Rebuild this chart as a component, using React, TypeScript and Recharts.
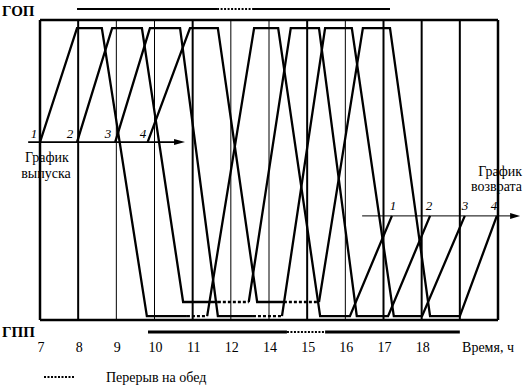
import React from 'react';
import { LineChart, Line, XAxis, YAxis, ReferenceLine } from 'recharts';

const FONT = 'Liberation Serif, DejaVu Serif, serif';

// clock positions of the grid (one column per hour slot) and their printed labels
const hourSlots = [7, 8, 9, 10, 11, 12, 13, 14, 15, 16, 17, 18, 19];
const hourTicks = [7, 8, 9, 10, 11, 12, 13, 14, 15, 16, 17, 18];
const hourLabels = ['7', '8', '9', '10', '11', '12', '14', '15', '16', '17', '18', ''];
const thickSlots = [8, 11, 14, 16, 17, 18];

// levels (0 = bottom of the box, 100 = top)
const GOP = 97.3;
const GPP_LOW = 1.3;
const GPP_HIGH = 6;
const OUT = 59.3;
const BACK = 34.7;

// vehicle 1..4: turning points (time, level); segment 4-5 is the lunch break
const times1 = [7.0, 7.97, 8.62, 9.8, 10.85, 11.38, 12.61, 13.24, 14.34, 15.12, 16.22];
const levels1 = [OUT, GOP, GOP, GPP_LOW, GPP_LOW, GPP_LOW, GOP, GOP, GPP_LOW, GPP_LOW, BACK];
const times2 = [7.97, 8.89, 9.67, 10.75, 11.66, 12.47, 13.57, 14.31, 15.3, 16.12, 17.22];
const levels2 = [OUT, GOP, GOP, GPP_HIGH, GPP_HIGH, GPP_HIGH, GOP, GOP, GPP_LOW, GPP_LOW, BACK];
const times3 = [8.97, 9.88, 10.67, 11.66, 12.58, 13.34, 14.47, 15.17, 16.27, 17.01, 18.13];
const levels3 = [OUT, GOP, GOP, GPP_LOW, GPP_LOW, GPP_LOW, GOP, GOP, GPP_LOW, GPP_LOW, BACK];
const times4 = [9.82, 10.93, 11.66, 12.69, 13.39, 14.31, 15.46, 16.17, 17.22, 18.0, 18.97];
const levels4 = [OUT, GOP, GOP, GPP_HIGH, GPP_HIGH, GPP_HIGH, GOP, GOP, GPP_LOW, GPP_LOW, BACK];

// work-time bars above (ГОП) and below (ГПП): [solid start, lunch start, lunch end, solid end]
const gopBar = [7.97, 11.64, 12.58, 16.17];
const gppBar = [9.83, 13.47, 14.47, 18.0];
const GOP_BAR_LEVEL = 103.7;
const GPP_BAR_LEVEL = -4;

// release and return arrows: [from, to]
const releaseArrow = [6.69, 10.8];
const returnArrow = [15.44, 19.58];

const vehicles = [
  [times1, levels1],
  [times2, levels2],
  [times3, levels3],
  [times4, levels4],
];

const splitTrip = (times: number[], levels: number[]) => {
  const pts = times.map((t, i) => ({ t, v: levels[i] }));
  return { before: pts.slice(0, 5), lunch: pts.slice(4, 6), after: pts.slice(5) };
};

const Arrow = (head: number, width: number) => (props: any) => {
  const { x1, y1, x2, y2 } = props;
  return (
    <g>
      <line x1={x1} y1={y1} x2={x2 - 4} y2={y2} stroke="#000" strokeWidth={width} />
      <polygon points={`${x2},${y2} ${x2 - head},${y2 - 3} ${x2 - head},${y2 + 3}`} fill="#000" />
    </g>
  );
};

const txt = { fontFamily: FONT, fill: '#000' };

const HourTick = (props: any) => {
  const { x, y, index } = props;
  return (
    <text x={x + 1} y={y + 24} textAnchor="middle" fontSize={14} style={txt}>
      {hourLabels[index]}
    </text>
  );
};

export default function App() {
  const trips = vehicles.map(([t, l]) => splitTrip(t, l));
  const lw = 2.3;
  return (
    <div style={{ position: 'absolute', left: 0, top: 0, width: 523, height: 392, background: '#fff' }}>
      <LineChart width={523} height={392} margin={{ top: 20, right: 25, bottom: 42, left: 40 }}>
        <XAxis
          type="number"
          dataKey="t"
          domain={[7, 19]}
          ticks={hourTicks}
          tick={<HourTick />}
          tickLine={false}
          axisLine={false}
          height={30}
          allowDataOverflow
        />
        <YAxis type="number" dataKey="v" domain={[0, 100]} hide allowDataOverflow />

        {hourSlots.map((h) => (
          <ReferenceLine
            key={'g' + h}
            x={h}
            stroke="#000"
            strokeWidth={h === 7 || h === 19 ? 2.5 : thickSlots.includes(h) ? 2 : 1}
          />
        ))}
        <ReferenceLine y={100} stroke="#000" strokeWidth={2.5} />
        <ReferenceLine y={0} stroke="#000" strokeWidth={2.5} />

        {trips.map((tr, i) => [
          <Line key={'a' + i} data={tr.before} dataKey="v" type="linear" stroke="#000" strokeWidth={lw} dot={false} isAnimationActive={false} />,
          <Line key={'l' + i} data={tr.lunch} dataKey="v" type="linear" stroke="#000" strokeWidth={lw} strokeDasharray="3 2" dot={false} isAnimationActive={false} />,
          <Line key={'b' + i} data={tr.after} dataKey="v" type="linear" stroke="#000" strokeWidth={lw} dot={false} isAnimationActive={false} />,
        ])}

        <ReferenceLine segment={[{ x: gopBar[0], y: GOP_BAR_LEVEL }, { x: gopBar[1], y: GOP_BAR_LEVEL }]} stroke="#000" strokeWidth={2} ifOverflow="visible" />
        <ReferenceLine segment={[{ x: gopBar[1], y: GOP_BAR_LEVEL }, { x: gopBar[2], y: GOP_BAR_LEVEL }]} stroke="#000" strokeWidth={2} strokeDasharray="2 1.5" ifOverflow="visible" />
        <ReferenceLine segment={[{ x: gopBar[2], y: GOP_BAR_LEVEL }, { x: gopBar[3], y: GOP_BAR_LEVEL }]} stroke="#000" strokeWidth={2} ifOverflow="visible" />
        <ReferenceLine segment={[{ x: gppBar[0], y: GPP_BAR_LEVEL }, { x: gppBar[1], y: GPP_BAR_LEVEL }]} stroke="#000" strokeWidth={3} ifOverflow="visible" />
        <ReferenceLine segment={[{ x: gppBar[1], y: GPP_BAR_LEVEL }, { x: gppBar[2], y: GPP_BAR_LEVEL }]} stroke="#000" strokeWidth={2} strokeDasharray="2 1.5" ifOverflow="visible" />
        <ReferenceLine segment={[{ x: gppBar[2], y: GPP_BAR_LEVEL }, { x: gppBar[3], y: GPP_BAR_LEVEL }]} stroke="#000" strokeWidth={3} ifOverflow="visible" />

        <ReferenceLine segment={[{ x: releaseArrow[0], y: OUT }, { x: releaseArrow[1], y: OUT }]} ifOverflow="visible" shape={Arrow(11, 1.6)} />
        <ReferenceLine segment={[{ x: returnArrow[0], y: BACK }, { x: returnArrow[1], y: BACK }]} ifOverflow="visible" shape={Arrow(10, 1)} />

        <text x={2} y={16} fontSize={15} fontWeight="bold" style={txt}>ГОП</text>
        <text x={2} y={337} fontSize={15} fontWeight="bold" style={txt}>ГПП</text>

        <text x={47} y={162} fontSize={14} textAnchor="middle" style={txt}>График</text>
        <text x={46} y={178} fontSize={14} textAnchor="middle" style={txt}>выпуска</text>
        <text x={522} y={176} fontSize={14} textAnchor="end" style={txt}>График</text>
        <text x={522} y={191} fontSize={14} textAnchor="end" style={txt}>возврата</text>

        {['1', '2', '3', '4'].map((n, i) => (
          <text key={'r' + n} x={[34, 70, 108, 143][i]} y={138} fontSize={13} fontStyle="italic" textAnchor="middle" style={txt}>{n}</text>
        ))}
        {['1', '2', '3', '4'].map((n, i) => (
          <text key={'b' + n} x={[393, 429, 465, 494][i]} y={210} fontSize={13} fontStyle="italic" textAnchor="middle" style={txt}>{n}</text>
        ))}

        <text x={488} y={352} fontSize={14} textAnchor="middle" style={txt}>Время, ч</text>

        <line x1={44} y1={377} x2={74} y2={377} stroke="#000" strokeWidth={2} strokeDasharray="2 1.5" />
        <text x={106} y={382} fontSize={14} style={txt}>Перерыв на обед</text>
      </LineChart>
    </div>
  );
}
